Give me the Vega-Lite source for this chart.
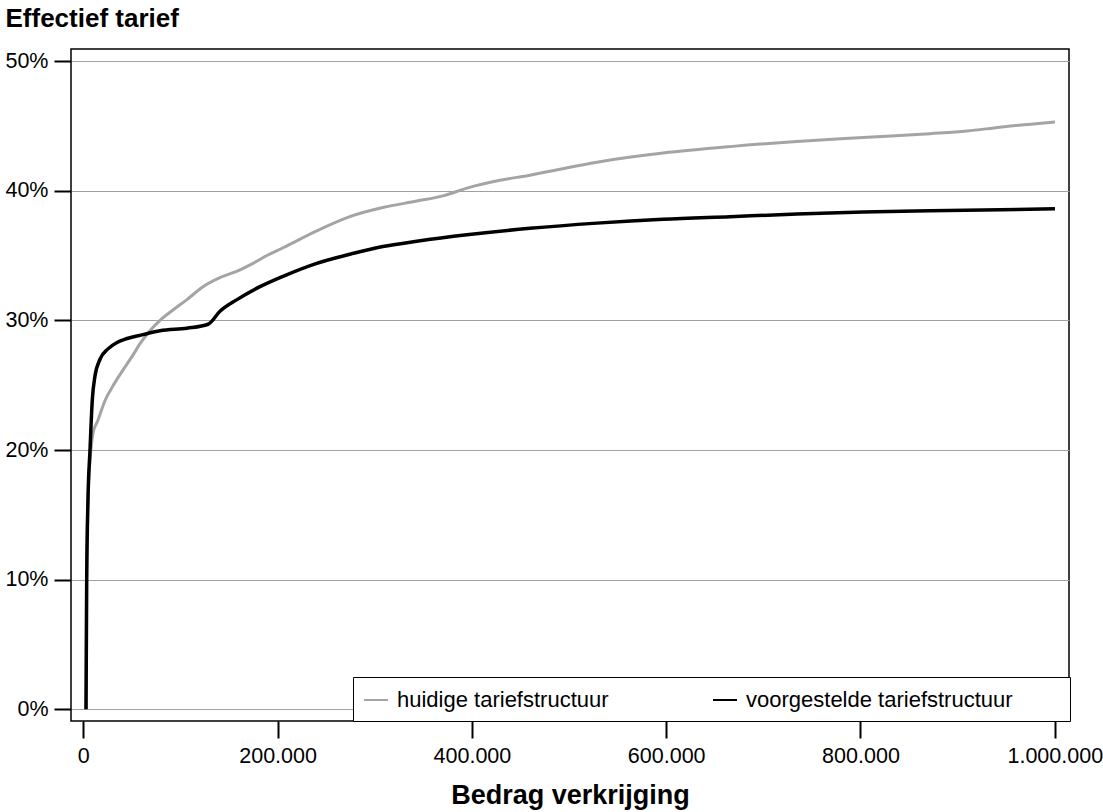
{
  "$schema": "https://vega.github.io/schema/vega-lite/v6.json",
  "autosize": {"type": "none"},
  "width": 998,
  "height": 672,
  "padding": {"left": 71, "top": 49, "right": 34, "bottom": 91},
  "background": "white",
  "config": {
    "locale": {"number": {"decimal": ",", "thousands": ".", "grouping": [3], "currency": ["€", ""]}},
    "view": {"stroke": "black", "strokeWidth": 1.5},
    "font": "Liberation Sans"
  },
  "data": {"values": [
    {"bedrag": 2800, "tarief": 0, "structuur": "huidige tariefstructuur"},
    {"bedrag": 3300, "tarief": 9.9, "structuur": "huidige tariefstructuur"},
    {"bedrag": 4800, "tarief": 16.1, "structuur": "huidige tariefstructuur"},
    {"bedrag": 7900, "tarief": 20.0, "structuur": "huidige tariefstructuur"},
    {"bedrag": 10000, "tarief": 21.3, "structuur": "huidige tariefstructuur"},
    {"bedrag": 15100, "tarief": 22.3, "structuur": "huidige tariefstructuur"},
    {"bedrag": 22300, "tarief": 23.8, "structuur": "huidige tariefstructuur"},
    {"bedrag": 32600, "tarief": 25.2, "structuur": "huidige tariefstructuur"},
    {"bedrag": 42900, "tarief": 26.4, "structuur": "huidige tariefstructuur"},
    {"bedrag": 50100, "tarief": 27.2, "structuur": "huidige tariefstructuur"},
    {"bedrag": 58400, "tarief": 28.2, "structuur": "huidige tariefstructuur"},
    {"bedrag": 68600, "tarief": 29.2, "structuur": "huidige tariefstructuur"},
    {"bedrag": 79000, "tarief": 30.0, "structuur": "huidige tariefstructuur"},
    {"bedrag": 92300, "tarief": 30.8, "structuur": "huidige tariefstructuur"},
    {"bedrag": 106700, "tarief": 31.6, "structuur": "huidige tariefstructuur"},
    {"bedrag": 123200, "tarief": 32.6, "structuur": "huidige tariefstructuur"},
    {"bedrag": 140700, "tarief": 33.3, "structuur": "huidige tariefstructuur"},
    {"bedrag": 161300, "tarief": 33.9, "structuur": "huidige tariefstructuur"},
    {"bedrag": 174700, "tarief": 34.4, "structuur": "huidige tariefstructuur"},
    {"bedrag": 189100, "tarief": 35.0, "structuur": "huidige tariefstructuur"},
    {"bedrag": 205600, "tarief": 35.6, "structuur": "huidige tariefstructuur"},
    {"bedrag": 240300, "tarief": 36.9, "structuur": "huidige tariefstructuur"},
    {"bedrag": 274300, "tarief": 38.0, "structuur": "huidige tariefstructuur"},
    {"bedrag": 308300, "tarief": 38.7, "structuur": "huidige tariefstructuur"},
    {"bedrag": 343300, "tarief": 39.2, "structuur": "huidige tariefstructuur"},
    {"bedrag": 370100, "tarief": 39.6, "structuur": "huidige tariefstructuur"},
    {"bedrag": 394900, "tarief": 40.2, "structuur": "huidige tariefstructuur"},
    {"bedrag": 428800, "tarief": 40.8, "structuur": "huidige tariefstructuur"},
    {"bedrag": 459700, "tarief": 41.2, "structuur": "huidige tariefstructuur"},
    {"bedrag": 480300, "tarief": 41.5, "structuur": "huidige tariefstructuur"},
    {"bedrag": 528700, "tarief": 42.2, "structuur": "huidige tariefstructuur"},
    {"bedrag": 596700, "tarief": 42.9, "structuur": "huidige tariefstructuur"},
    {"bedrag": 665700, "tarief": 43.4, "structuur": "huidige tariefstructuur"},
    {"bedrag": 734600, "tarief": 43.8, "structuur": "huidige tariefstructuur"},
    {"bedrag": 802600, "tarief": 44.1, "structuur": "huidige tariefstructuur"},
    {"bedrag": 871600, "tarief": 44.4, "structuur": "huidige tariefstructuur"},
    {"bedrag": 909600, "tarief": 44.6, "structuur": "huidige tariefstructuur"},
    {"bedrag": 943600, "tarief": 44.9, "structuur": "huidige tariefstructuur"},
    {"bedrag": 1000200, "tarief": 45.3, "structuur": "huidige tariefstructuur"},
    {"bedrag": 2800, "tarief": 0, "structuur": "voorgestelde tariefstructuur"},
    {"bedrag": 3500, "tarief": 9.9, "structuur": "voorgestelde tariefstructuur"},
    {"bedrag": 4800, "tarief": 16.1, "structuur": "voorgestelde tariefstructuur"},
    {"bedrag": 6900, "tarief": 20.0, "structuur": "voorgestelde tariefstructuur"},
    {"bedrag": 9300, "tarief": 23.9, "structuur": "voorgestelde tariefstructuur"},
    {"bedrag": 12000, "tarief": 25.7, "structuur": "voorgestelde tariefstructuur"},
    {"bedrag": 17200, "tarief": 27.0, "structuur": "voorgestelde tariefstructuur"},
    {"bedrag": 25400, "tarief": 27.8, "structuur": "voorgestelde tariefstructuur"},
    {"bedrag": 34700, "tarief": 28.3, "structuur": "voorgestelde tariefstructuur"},
    {"bedrag": 45000, "tarief": 28.6, "structuur": "voorgestelde tariefstructuur"},
    {"bedrag": 61400, "tarief": 28.9, "structuur": "voorgestelde tariefstructuur"},
    {"bedrag": 79000, "tarief": 29.2, "structuur": "voorgestelde tariefstructuur"},
    {"bedrag": 106700, "tarief": 29.4, "structuur": "voorgestelde tariefstructuur"},
    {"bedrag": 128400, "tarief": 29.7, "structuur": "voorgestelde tariefstructuur"},
    {"bedrag": 140700, "tarief": 30.7, "structuur": "voorgestelde tariefstructuur"},
    {"bedrag": 158200, "tarief": 31.6, "structuur": "voorgestelde tariefstructuur"},
    {"bedrag": 181900, "tarief": 32.6, "structuur": "voorgestelde tariefstructuur"},
    {"bedrag": 205600, "tarief": 33.4, "structuur": "voorgestelde tariefstructuur"},
    {"bedrag": 240300, "tarief": 34.4, "structuur": "voorgestelde tariefstructuur"},
    {"bedrag": 274300, "tarief": 35.1, "structuur": "voorgestelde tariefstructuur"},
    {"bedrag": 308300, "tarief": 35.7, "structuur": "voorgestelde tariefstructuur"},
    {"bedrag": 343300, "tarief": 36.1, "structuur": "voorgestelde tariefstructuur"},
    {"bedrag": 394900, "tarief": 36.6, "structuur": "voorgestelde tariefstructuur"},
    {"bedrag": 459700, "tarief": 37.1, "structuur": "voorgestelde tariefstructuur"},
    {"bedrag": 528700, "tarief": 37.5, "structuur": "voorgestelde tariefstructuur"},
    {"bedrag": 596700, "tarief": 37.8, "structuur": "voorgestelde tariefstructuur"},
    {"bedrag": 665700, "tarief": 38.0, "structuur": "voorgestelde tariefstructuur"},
    {"bedrag": 734600, "tarief": 38.2, "structuur": "voorgestelde tariefstructuur"},
    {"bedrag": 802600, "tarief": 38.35, "structuur": "voorgestelde tariefstructuur"},
    {"bedrag": 871600, "tarief": 38.45, "structuur": "voorgestelde tariefstructuur"},
    {"bedrag": 1000200, "tarief": 38.6, "structuur": "voorgestelde tariefstructuur"}
  ]},
  "encoding": {
    "x": {
      "field": "bedrag", "type": "quantitative",
      "scale": {"domain": [-12660, 1014640], "nice": false, "zero": false},
      "axis": {
        "values": [0, 200000, 400000, 600000, 800000, 1000000],
        "format": ",d",
        "grid": false, "domain": false,
        "tickSize": 17, "tickWidth": 2, "tickColor": "black",
        "labelFont": "Liberation Sans", "labelFontSize": 21.5, "labelColor": "black",
        "labelPadding": 7, "labelFlush": false, "labelOverlap": false,
        "title": "Bedrag verkrijging",
        "titleFont": "Liberation Sans", "titleFontSize": 27, "titleFontWeight": "bold", "titleColor": "black",
        "titleY": 82, "titleBaseline": "alphabetic"
      }
    },
    "y": {
      "field": "tarief", "type": "quantitative",
      "scale": {"domain": [-0.9, 50.93], "nice": false, "zero": false},
      "axis": {
        "values": [0, 10, 20, 30, 40, 50],
        "labelExpr": "datum.value + '%'",
        "grid": true, "gridColor": "#a0a0a0", "gridWidth": 1,
        "domain": false,
        "tickSize": 17, "tickWidth": 2, "tickColor": "black",
        "labelFont": "Liberation Sans", "labelFontSize": 21.5, "labelColor": "black",
        "labelPadding": 6, "labelFlush": false, "labelOverlap": false,
        "title": "Effectief tarief",
        "titleFont": "Liberation Sans", "titleFontSize": 26, "titleFontWeight": "bold", "titleColor": "black",
        "titleAngle": 0, "titleAlign": "left", "titleBaseline": "alphabetic",
        "titleX": -66, "titleY": -23
      }
    },
    "color": {
      "field": "structuur", "type": "nominal",
      "scale": {"domain": ["huidige tariefstructuur", "voorgestelde tariefstructuur"], "range": ["#a4a4a4", "#000000"]},
      "legend": {
        "orient": "none", "legendX": 282, "legendY": 628,
        "direction": "horizontal", "columns": 2,
        "title": " ", "titleOrient": "right", "titlePadding": 47, "titleFontSize": 10,
        "symbolType": "stroke", "symbolSize": 576, "symbolStrokeWidth": 2,
        "labelFont": "Liberation Sans", "labelFontSize": 22, "labelColor": "black", "labelOffset": 8, "labelLimit": 400,
        "columnPadding": 100, "padding": 10,
        "strokeColor": "black", "fillColor": "white"
      }
    }
  },
  "layer": [
    {
      "transform": [{"filter": "datum.structuur === 'huidige tariefstructuur'"}],
      "mark": {"type": "line", "strokeWidth": 3, "interpolate": "monotone"}
    },
    {
      "transform": [{"filter": "datum.structuur === 'voorgestelde tariefstructuur'"}],
      "mark": {"type": "line", "strokeWidth": 3.5, "interpolate": "monotone"}
    }
  ]
}
